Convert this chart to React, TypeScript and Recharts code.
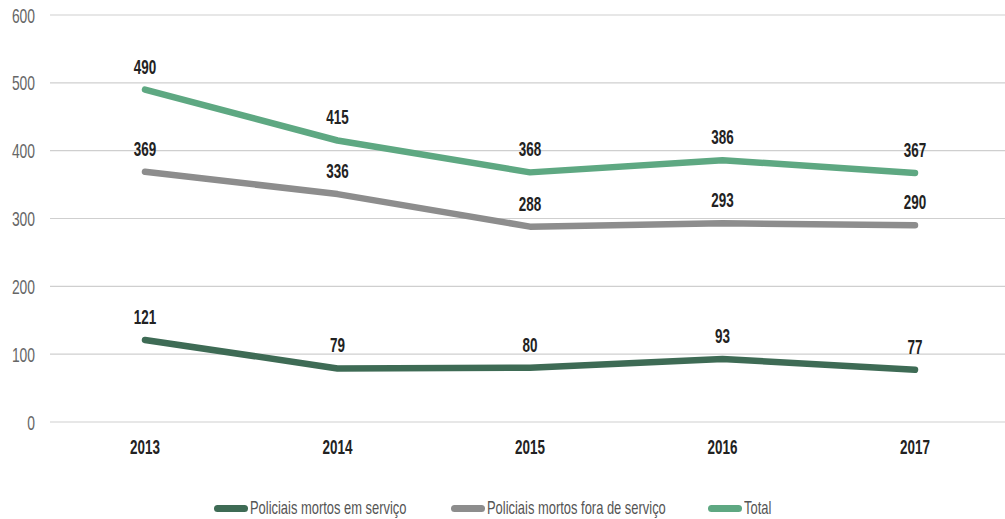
import React from 'react'
import { LineChart, Line, XAxis, YAxis, CartesianGrid, LabelList } from 'recharts'

const years = ['2013', '2014', '2015', '2016', '2017']
const emServico = [121, 79, 80, 93, 77]
const foraServico = [369, 336, 288, 293, 290]
const total = [490, 415, 368, 386, 367]
const yTicks = [0, 100, 200, 300, 400, 500, 600]

const SERIES = [
  { key: 'emServico', name: 'Policiais mortos em serviço', color: '#3e6b55', legendX: 214 },
  { key: 'foraServico', name: 'Policiais mortos fora de serviço', color: '#8d8d8d', legendX: 451 },
  { key: 'total', name: 'Total', color: '#5ea882', legendX: 708 },
]

const data = years.map((year, i) => ({
  year,
  emServico: emServico[i],
  foraServico: foraServico[i],
  total: total[i],
}))

const FONT = "'Liberation Sans', Arial, sans-serif"

// narrow text: the original uses a condensed face we don't have
const CondText = ({ x, y, children, anchor = 'middle', size = 21, weight = 700, fill = '#222', squeeze = 0.64 }: any) => (
  <text
    transform={`translate(${x},${y}) scale(${squeeze},1)`}
    textAnchor={anchor}
    fontFamily={FONT}
    fontSize={size}
    fontWeight={weight}
    fill={fill}
  >
    {children}
  </text>
)

const XTick = ({ x, y, payload }: any) => (
  <CondText x={x} y={y + 32}>
    {payload.value}
  </CondText>
)

const YTick = ({ x, y, payload }: any) => (
  <CondText x={x} y={y + 7.5} anchor="end" size={21} weight={400} fill="#666" squeeze={0.66}>
    {payload.value}
  </CondText>
)

const PointLabel = (props: any) => {
  const { value } = props
  const x = props.x ?? props.viewBox?.x
  const y = props.y ?? props.viewBox?.y
  return (
    <CondText x={x} y={y - 16}>
      {value}
    </CondText>
  )
}

const Legend = () => (
  <div style={{ position: 'absolute', top: 497, left: 0, width: 1005, height: 22, fontFamily: FONT, fontSize: 19, color: '#555' }}>
    {SERIES.map((s) => (
      <div key={s.key} style={{ position: 'absolute', left: s.legendX, top: 0, height: 22, display: 'flex', alignItems: 'center', whiteSpace: 'nowrap' }}>
        <span style={{ display: 'inline-block', width: 34, height: 7, borderRadius: 4, background: s.color, marginRight: 2 }} />
        <span style={{ display: 'inline-block', transform: 'scaleX(0.68)', transformOrigin: 'left center' }}>{s.name}</span>
      </div>
    ))}
  </div>
)

export default function App() {
  return (
    <div style={{ position: 'absolute', top: 0, left: 0, width: 1005, height: 519, background: '#fff' }}>
      <LineChart width={1005} height={519} data={data} margin={{ top: 15, right: 0, bottom: 0, left: 0 }}>
        <CartesianGrid vertical={false} stroke="#cfcfcf" strokeWidth={1.2} />
        <XAxis
          dataKey="year"
          axisLine={false}
          tickLine={false}
          tickSize={0}
          tickMargin={0}
          height={97}
          padding={{ left: 95, right: 90 }}
          tick={<XTick />}
        />
        <YAxis
          domain={[0, 600]}
          ticks={yTicks}
          width={50}
          axisLine={false}
          tickLine={false}
          tickSize={0}
          tickMargin={15}
          tick={<YTick />}
        />
        {SERIES.map((s) => (
          <Line
            key={s.key}
            dataKey={s.key}
            name={s.name}
            type="linear"
            stroke={s.color}
            strokeWidth={6.5}
            strokeLinecap="round"
            strokeLinejoin="round"
            dot={false}
            activeDot={false}
            isAnimationActive={false}
          >
            <LabelList dataKey={s.key} content={<PointLabel />} />
          </Line>
        ))}
      </LineChart>
      <Legend />
    </div>
  )
}
